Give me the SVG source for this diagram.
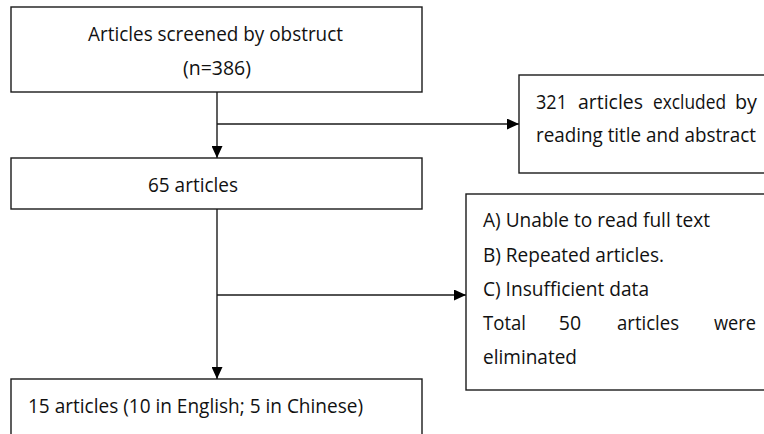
<svg xmlns="http://www.w3.org/2000/svg" width="764" height="434" viewBox="0 0 764 434">
<style>
.box{fill:#fff;stroke:#1a1a1a;stroke-width:1.4}
.t{font-family:"Open Sans","Liberation Sans",sans-serif;font-size:19.5px;fill:#111}
.c{stroke:#1a1a1a;stroke-width:1.4;fill:none}
</style>
<defs>
<marker id="ah" markerUnits="userSpaceOnUse" markerWidth="12" markerHeight="11" refX="12" refY="5.5" orient="auto">
<path d="M0,0 L12,5.5 L0,11 z" fill="#000"/>
</marker>
</defs>
<rect width="764" height="434" fill="#fff"/>
<g id="connectors">
<line class="c" x1="217" y1="92" x2="217" y2="158" marker-end="url(#ah)"/>
<line class="c" x1="217" y1="124" x2="519" y2="124" marker-end="url(#ah)"/>
<line class="c" x1="217" y1="209" x2="217" y2="379" marker-end="url(#ah)"/>
<line class="c" x1="217" y1="295" x2="466" y2="295" marker-end="url(#ah)"/>
</g>
<g id="screened">
<rect class="box" x="11" y="7" width="411" height="85"/>
<text class="t" x="88" y="41" textLength="255" lengthAdjust="spacingAndGlyphs">Articles screened by obstruct</text>
<text class="t" x="183" y="75" textLength="68" lengthAdjust="spacingAndGlyphs">(n=386)</text>
</g>
<g id="excluded">
<rect class="box" x="519" y="75" width="260" height="98"/>
<text class="t" x="536" y="109" textLength="31" lengthAdjust="spacingAndGlyphs">321</text>
<text class="t" x="578" y="109" textLength="65" lengthAdjust="spacingAndGlyphs">articles</text>
<text class="t" x="653" y="109" textLength="73" lengthAdjust="spacingAndGlyphs">excluded</text>
<text class="t" x="735" y="109" textLength="22" lengthAdjust="spacingAndGlyphs">by</text>
<text class="t" x="536" y="142" textLength="220" lengthAdjust="spacingAndGlyphs">reading title and abstract</text>
</g>
<g id="articles65">
<rect class="box" x="11" y="158" width="411" height="51"/>
<text class="t" x="148" y="192" textLength="90" lengthAdjust="spacingAndGlyphs">65 articles</text>
</g>
<g id="eliminated">
<rect class="box" x="466" y="194" width="313" height="196"/>
<text class="t" x="483" y="227" textLength="227" lengthAdjust="spacingAndGlyphs">A) Unable to read full text</text>
<text class="t" x="483" y="262" textLength="181" lengthAdjust="spacingAndGlyphs">B) Repeated articles.</text>
<text class="t" x="483" y="296" textLength="166" lengthAdjust="spacingAndGlyphs">C) Insufficient data</text>
<text class="t" x="483" y="330" textLength="43" lengthAdjust="spacingAndGlyphs">Total</text>
<text class="t" x="570" y="330" text-anchor="middle">50</text>
<text class="t" x="617" y="330" textLength="62" lengthAdjust="spacingAndGlyphs">articles</text>
<text class="t" x="714" y="330" textLength="42" lengthAdjust="spacingAndGlyphs">were</text>
<text class="t" x="483" y="364" textLength="94" lengthAdjust="spacingAndGlyphs">eliminated</text>
</g>
<g id="final">
<rect class="box" x="11" y="379" width="411" height="70"/>
<text class="t" x="28" y="413" textLength="335" lengthAdjust="spacingAndGlyphs">15 articles (10 in English; 5 in Chinese)</text>
</g>
</svg>
